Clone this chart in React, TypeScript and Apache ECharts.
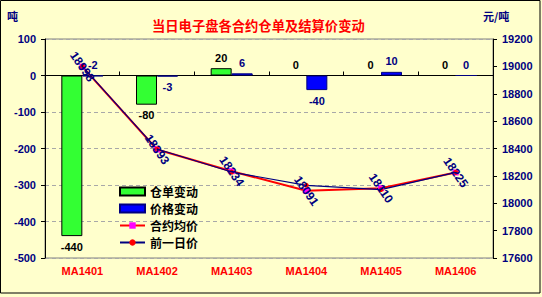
import React, { useEffect, useRef } from "react";
import * as echarts from "echarts";

const categories = ["MA1401", "MA1402", "MA1403", "MA1404", "MA1405", "MA1406"];
const warrantChange = [-440, -80, 20, 0, 0, 0];
const priceChange = [-2, -3, 6, -40, 10, 0];
const avgPrice = [18998, 18393, 18234, 18091, 18110, 18225];
const prevPrice = [19000, 18396, 18228, 18131, 18100, 18225];

const CJK = '"Liberation Sans", Arial, "Noto Sans CJK SC", sans-serif';
const NAVY = "#000080";

export default function App() {
  const ref = useRef<HTMLDivElement>(null);
  useEffect(() => {
    if (!ref.current) return;
    const chart = echarts.init(ref.current, undefined, { renderer: "svg" });
    const barLabel = (v: number) => ({ value: v, label: { position: v <= -3 ? "bottom" : "top" } });
    chart.setOption({
      animation: false,
      backgroundColor: "#FFFFCC",
      textStyle: { fontFamily: CJK },
      title: {
        text: "当日电子盘各合约仓单及结算价变动",
        left: 147,
        top: 14,
        textStyle: {
          color: "#FF0000",
          fontSize: 13.3,
          fontWeight: "bold",
          fontFamily: '"Noto Sans CJK SC", sans-serif',
          textShadowColor: "#500000",
          textShadowOffsetX: 1,
          textShadowOffsetY: 1,
          textShadowBlur: 0,
        },
      },
      graphic: [
        {
          type: "text",
          x: 7,
          y: 15.5,
          style: { text: "吨", fill: NAVY, font: 'bold 11px "Noto Sans CJK SC"', verticalAlign: "middle" },
        },
        {
          type: "text",
          x: 483,
          y: 15.5,
          style: { text: "元/吨", fill: NAVY, font: 'bold 11px "Noto Sans CJK SC"', verticalAlign: "middle" },
        },
        {
          type: "rect",
          silent: true,
          z: 100,
          shape: { x: 0.5, y: 0.5, width: 539.5, height: 292.5 },
          style: { fill: "none", stroke: "#000", lineWidth: 1 },
        },
      ],
      grid: {
        left: 45,
        right: 49,
        top: 39,
        bottom: 39,
        show: true,
        borderColor: "#808080",
        borderWidth: 1,
        backgroundColor: "transparent",
      },
      legend: {
        orient: "vertical",
        left: 119,
        top: 184,
        itemWidth: 25,
        itemHeight: 8,
        itemGap: 2,
        padding: 0,
        textStyle: {
          fontSize: 12,
          lineHeight: 15,
          fontWeight: "bold",
          color: "#000",
          fontFamily: '"Noto Sans CJK SC", sans-serif',
        },
        data: [
          { name: "仓单变动", icon: "rect" },
          { name: "价格变动", icon: "rect" },
          "合约均价",
          "前一日价",
        ],
      },
      xAxis: [
        {
          type: "category",
          data: categories,
          boundaryGap: true,
          axisLine: { show: true, onZero: true, onZeroAxisIndex: 0, lineStyle: { color: "#000", width: 1 } },
          axisTick: { show: true, inside: true, length: 4, lineStyle: { color: "#000" } },
          axisLabel: { show: false },
          splitLine: { show: false },
        },
        {
          type: "category",
          data: categories,
          position: "bottom",
          axisLine: { show: false, onZero: false },
          axisTick: { show: false },
          axisLabel: {
            color: "#FF0000",
            fontWeight: "bold",
            fontSize: 11,
            margin: 7,
            textShadowColor: "#500000",
            textShadowOffsetX: 1,
            textShadowOffsetY: 1,
          },
          splitLine: { show: false },
        },
      ],
      yAxis: [
        {
          type: "value",
          position: "left",
          min: -500,
          max: 100,
          interval: 100,
          axisLine: { show: true, lineStyle: { color: "#000" } },
          axisTick: { show: true, length: 4, lineStyle: { color: "#000" } },
          axisLabel: { color: NAVY, fontWeight: "bold", fontSize: 11, margin: 9 },
          splitLine: { show: true, lineStyle: { type: [4, 3], color: "#A8A8A8" } },
        },
        {
          type: "value",
          position: "right",
          min: 17600,
          max: 19200,
          interval: 200,
          axisLine: { show: true, lineStyle: { color: "#000" } },
          axisTick: { show: true, length: 4, lineStyle: { color: "#000" } },
          axisLabel: {
            color: NAVY,
            fontWeight: "bold",
            fontSize: 11,
            margin: 9,
            formatter: (v: number) => String(v),
          },
          splitLine: { show: false },
        },
      ],
      series: [
        {
          name: "仓单变动",
          type: "bar",
          xAxisIndex: 0,
          yAxisIndex: 0,
          barWidth: 21,
          barGap: "0%",
          data: warrantChange.map(barLabel),
          itemStyle: { color: "#33FF33", borderColor: "#000", borderWidth: 1 },
          label: { show: true, color: "#000", fontWeight: "bold", fontSize: 11, distance: 5 },
        },
        {
          name: "价格变动",
          type: "bar",
          xAxisIndex: 0,
          yAxisIndex: 0,
          barWidth: 21,
          barGap: "0%",
          data: priceChange.map(barLabel),
          itemStyle: { color: "#0000FF", borderColor: NAVY, borderWidth: 1 },
          label: { show: true, color: NAVY, fontWeight: "bold", fontSize: 11, distance: 5 },
        },
        {
          name: "合约均价",
          type: "line",
          xAxisIndex: 0,
          yAxisIndex: 1,
          data: avgPrice,
          symbol: "rect",
          symbolSize: 6,
          lineStyle: { color: "#FF0000", width: 2 },
          itemStyle: { color: "#FF00FF" },
          label: {
            show: true,
            position: "inside",
            rotate: -55,
            color: NAVY,
            fontWeight: "bold",
            fontSize: 12,
          },
        },
        {
          name: "前一日价",
          type: "line",
          xAxisIndex: 0,
          yAxisIndex: 1,
          data: prevPrice,
          symbol: "circle",
          symbolSize: 5,
          lineStyle: { color: NAVY, width: 1.2 },
          itemStyle: { color: "#FF0000" },
        },
      ],
    });
    return () => chart.dispose();
  }, []);
  return (
    <div
      ref={ref}
      style={{ position: "fixed", left: 0, top: 0, width: 542, height: 297 }}
    />
  );
}
